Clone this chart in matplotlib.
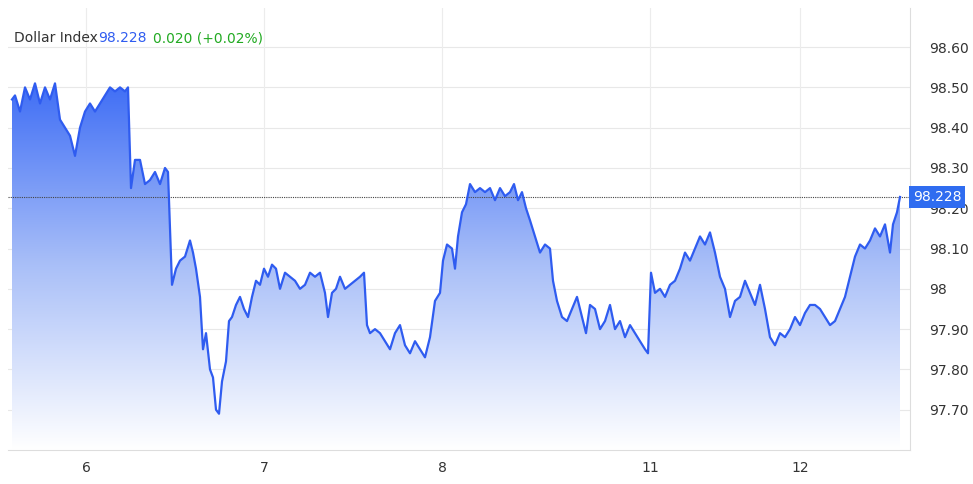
import numpy as np
import matplotlib
matplotlib.use("Agg")
import matplotlib.pyplot as plt
from matplotlib.patches import Polygon
from matplotlib.colors import LinearSegmentedColormap

xs = [12,15,20,25,30,35,40,45,50,55,60,65,70,75,80,85,90,95,100,105,110,115,120,125,128,131,135,140,145,150,155,160,165,168,
      172,176,180,185,190,193,196,200,203,206,210,213,216,219,222,226,229,232,236,240,244,248,252,256,260,264,268,272,276,280,
      285,290,295,300,305,310,315,320,325,328,332,336,340,345,350,355,360,364,367,370,375,380,385,390,395,400,405,410,415,420,
      425,430,435,440,443,447,452,455,458,462,466,470,475,480,485,490,495,500,505,510,514,518,522,526,530,535,540,545,550,553,
      557,562,567,572,577,582,586,590,595,600,605,610,615,620,625,630,635,640,645,648,651,655,660,665,670,675,680,685,690,695,
      700,705,710,715,720,725,730,735,740,745,750,755,760,765,770,775,780,785,790,795,800,805,810,815,820,825,830,835,840,845,
      850,855,860,865,870,875,880,885,890,893,897,900]
vals = [98.47,98.48,98.44,98.50,98.47,98.51,98.46,98.50,98.47,98.51,98.42,98.40,98.38,98.33,98.40,98.44,98.46,98.44,98.46,98.48,
        98.50,98.49,98.50,98.49,98.50,98.25,98.32,98.32,98.26,98.27,98.29,98.26,98.30,98.29,
        98.01,98.05,98.07,98.08,98.12,98.09,98.05,97.98,97.85,97.89,97.80,97.78,97.70,97.69,97.77,97.82,97.92,97.93,97.96,97.98,
        97.95,97.93,97.98,98.02,98.01,98.05,98.03,98.06,98.05,98.00,98.04,98.03,98.02,98.00,98.01,98.04,98.03,98.04,97.99,97.93,
        97.99,98.00,98.03,98.00,98.01,98.02,98.03,98.04,97.91,97.89,97.90,97.89,97.87,97.85,97.89,97.91,97.86,97.84,97.87,97.85,
        97.83,97.88,97.97,97.99,98.07,98.11,98.10,98.05,98.13,98.19,98.21,98.26,98.24,98.25,98.24,98.25,98.22,98.25,98.23,98.24,
        98.26,98.22,98.24,98.20,98.17,98.13,98.09,98.11,98.10,98.02,97.97,97.93,97.92,97.95,97.98,97.93,97.89,97.96,97.95,97.90,
        97.92,97.96,97.90,97.92,97.88,97.91,97.89,97.87,97.85,97.84,98.04,97.99,98.00,97.98,98.01,98.02,98.05,98.09,98.07,98.10,
        98.13,98.11,98.14,98.09,98.03,98.00,97.93,97.97,97.98,98.02,97.99,97.96,98.01,97.95,97.88,97.86,97.89,97.88,97.90,97.93,
        97.91,97.94,97.96,97.96,97.95,97.93,97.91,97.92,97.95,97.98,98.03,98.08,98.11,98.10,98.12,98.15,98.13,98.16,98.09,98.16,
        98.19,98.228]
xtick_pos = [86, 264, 442, 650, 800]
xtick_labels = ["6", "7", "8", "11", "12"]
ytick_vals = [97.70, 97.80, 97.90, 98.00, 98.10, 98.20, 98.30, 98.40, 98.50, 98.60]
ytick_labels = ["97.70", "97.80", "97.90", "98", "98.10", "98.20", "98.30", "98.40", "98.50", "98.60"]
last = 98.228

fig = plt.figure(figsize=(9.73, 4.84), dpi=100)
ax = fig.add_axes([8/973, 34/484, 902/973, 442/484])
ymin, ymax = 97.60, 98.697
ax.set_xlim(8, 910)
ax.set_ylim(ymin, ymax)

grad = np.linspace(1, 0, 256).reshape(-1, 1)
cmap = LinearSegmentedColormap.from_list("g", ["#ffffff", "#a9bff8", "#3d6cf5"])
im = ax.imshow(grad, extent=[xs[0], xs[-1], ymin, 98.52], aspect="auto", cmap=cmap, zorder=1)
poly = Polygon(list(zip(xs, vals)) + [(xs[-1], ymin), (xs[0], ymin)], closed=True, transform=ax.transData, fc="none", ec="none")
ax.add_patch(poly)
im.set_clip_path(poly)
ax.plot(xs, vals, color="#2f5cf0", lw=1.6, zorder=3)

ax.axhline(last, color="#444444", lw=0.8, ls=(0, (1, 1)), zorder=2)
for y in ytick_vals:
    ax.axhline(y, color="#e8e8e8", lw=0.8, zorder=0)
for x in xtick_pos:
    ax.axvline(x, color="#ececec", lw=0.8, zorder=0)

ax.set_xticks(xtick_pos)
ax.set_xticklabels(xtick_labels, fontsize=10, color="#333333")
ax.yaxis.tick_right()
ax.set_yticks(ytick_vals)
ax.set_yticklabels(ytick_labels, fontsize=10, color="#333333")
ax.tick_params(axis="x", length=0, pad=8)
ax.tick_params(axis="y", length=0, pad=14)
for s in ["top", "left"]:
    ax.spines[s].set_visible(False)
ax.spines["right"].set_color("#dddddd")
ax.spines["bottom"].set_color("#dddddd")

ax.text(1.003, last, "98.228", transform=ax.get_yaxis_transform(), ha="left", va="center", fontsize=10, color="white",
        bbox=dict(boxstyle="square,pad=0.3", fc="#2f6cf0", ec="none"), zorder=5, clip_on=False)

fig.text(14/973, 1-38/484, "Dollar Index", fontsize=10, color="#333333", va="center")
fig.text(98/973, 1-38/484, "98.228", fontsize=10, color="#2f5cf0", va="center")
fig.text(153/973, 1-38/484, "0.020 (+0.02%)", fontsize=10, color="#22aa22", va="center")

fig.savefig("out.png", dpi=100, facecolor="white")
